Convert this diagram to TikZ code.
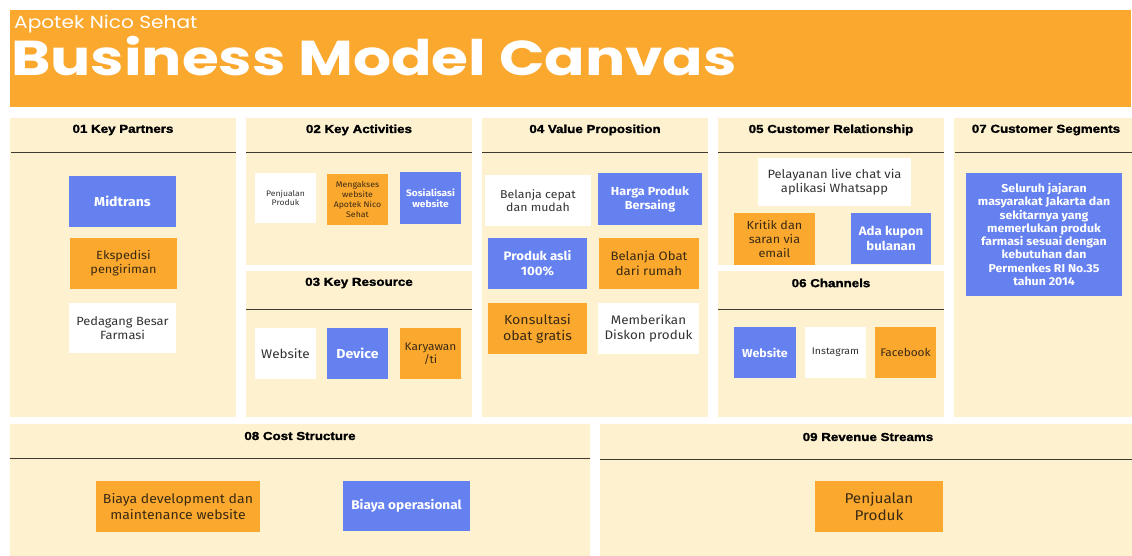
\documentclass[tikz,border=0pt]{standalone}
\usepackage{fontspec}
\setmainfont{Fira Sans}[FakeStretch=1.08]
\newfontfamily\hdfont{Poppins}[FakeStretch=1.15]
\newfontfamily\hdbig{Poppins}[FakeStretch=1.22]
\newfontfamily\ttlfont{Liberation Sans}[FakeStretch=1.15, BoldFeatures={FakeBold=1.6}]
\definecolor{org}{HTML}{FBA82F}
\definecolor{blu}{HTML}{6581F0}
\definecolor{crm}{HTML}{FDF1D0}
\definecolor{wtxt}{HTML}{333333}
\definecolor{otxt}{HTML}{3A2A12}
\definecolor{lin}{HTML}{3F3A30}
\tikzset{
  panel/.style={fill=crm, draw=none, anchor=north west, inner sep=0pt},
  ttl/.style={font=\ttlfont\bfseries\fontsize{11.6}{13}\selectfont, text=black, inner sep=0pt},
  divider/.style={draw=lin, line width=1pt},
  bx/.style={inner sep=1pt, align=center, draw=none, font=\linespread{1.2}\fontsize{#1}{#1}\selectfont},
  wbox/.style={bx=#1, fill=white, text=wtxt},
  obox/.style={bx=#1, fill=org, text=otxt},
  bbox/.style={bx=#1, fill=blu, text=white, font=\linespread{1.2}\bfseries\fontsize{#1}{#1}\selectfont},
}
\begin{document}
\begin{tikzpicture}[x=1pt,y=-1pt]
\useasboundingbox (0,0) rectangle (1132,556);
\fill[white] (0,0) rectangle (1132,556);
% header
\node[fill=org, anchor=north west, minimum width=1121pt, minimum height=97pt, inner sep=0pt] (hdr) at (10,10) {};
\node[anchor=base west, inner sep=0pt, text=white, font=\hdfont\fontsize{17.5}{21}\selectfont] (sub) at (14,29) {Apotek Nico Sehat};
\node[anchor=base west, inner sep=0pt, text=white, font=\hdbig\bfseries\fontsize{49}{58}\selectfont] (main) at (11,76) {Business Model Canvas};
% panels
\node[panel, minimum width=226pt, minimum height=299pt] (pKP) at (10,118) {};
\node[panel, minimum width=226pt, minimum height=147pt] (pKA) at (246,118) {};
\node[panel, minimum width=226pt, minimum height=146pt] (pKR) at (246,271) {};
\node[panel, minimum width=226pt, minimum height=299pt] (pVP) at (482,118) {};
\node[panel, minimum width=226pt, minimum height=147pt] (pCR) at (718,118) {};
\node[panel, minimum width=226pt, minimum height=146pt] (pCH) at (718,271) {};
\node[panel, minimum width=178pt, minimum height=299pt] (pCS) at (954,118) {};
\node[panel, minimum width=580pt, minimum height=132pt] (pCO) at (10,424) {};
\node[panel, minimum width=532pt, minimum height=132pt] (pRS) at (600,424) {};
% titles
\node[ttl] (tKP) at (123,130) {01 Key Partners};
\node[ttl] (tKA) at (359,130) {02 Key Activities};
\node[ttl] (tKR) at (359,283) {03 Key Resource};
\node[ttl] (tVP) at (595,130) {04 Value Proposition};
\node[ttl] (tCR) at (831,130) {05 Customer Relationship};
\node[ttl] (tCH) at (831,283) {06 Channels};
\node[ttl] (tCS) at (1046,130) {07 Customer Segments};
\node[ttl] (tCO) at (300,436) {08 Cost Structure};
\node[ttl] (tRS) at (868,437) {09 Revenue Streams};
% dividers
\draw[divider] (11,153) -- (236,153);
\draw[divider] (246,153) -- (472,153);
\draw[divider] (246,309) -- (472,309);
\draw[divider] (482,153) -- (708,153);
\draw[divider] (718,153) -- (944,153);
\draw[divider] (718,309) -- (944,309);
\draw[divider] (955,153) -- (1132,153);
\draw[divider] (10,458) -- (590,458);
\draw[divider] (600,459) -- (1132,459);
% key partners
\node[bbox=13, minimum width=107pt, minimum height=51pt] (mid) at (122.5,201.5) {Midtrans};
\node[obox=11.8, minimum width=107pt, minimum height=51pt] (eks) at (123.5,263.5) {Ekspedisi\\pengiriman};
\node[wbox=11.9, minimum width=107pt, minimum height=50pt] (ped) at (122.5,328) {Pedagang Besar\\Farmasi};
% key activities
\node[wbox=8, minimum width=61pt, minimum height=50pt] (pjl) at (285.5,198) {Penjualan\\Produk};
\node[obox=8.1, minimum width=61pt, minimum height=51pt] (mgk) at (357.5,199.5) {Mengakses\\website\\Apotek Nico\\Sehat};
\node[bbox=9.4, minimum width=61pt, minimum height=52pt] (sos) at (430.5,198) {Sosialisasi\\website};
% key resource
\node[wbox=12.5, minimum width=61pt, minimum height=51pt] (web1) at (285.5,353.5) {Website};
\node[bbox=13, minimum width=61pt, minimum height=51pt] (dev) at (357.5,353.5) {Device};
\node[obox=11, minimum width=61pt, minimum height=51pt] (kar) at (430.5,353.5) {Karyawan\\/ti};
% value proposition
\node[wbox=11.4, minimum width=106pt, minimum height=51pt] (bcp) at (538,200.5) {Belanja cepat\\dan mudah};
\node[bbox=11.7, minimum width=104pt, minimum height=52pt] (hrg) at (650,199) {Harga Produk\\Bersaing};
\node[bbox=12.3, minimum width=99pt, minimum height=51pt] (pas) at (537.5,263.5) {Produk asli\\100\%};
\node[obox=12.2, minimum width=100pt, minimum height=51pt] (bob) at (649,263.5) {Belanja Obat\\dari rumah};
\node[obox=13.1, minimum width=99pt, minimum height=51pt] (kon) at (537.5,328.5) {Konsultasi\\obat gratis};
\node[wbox=12.4, minimum width=101pt, minimum height=51pt] (mbd) at (648.5,328.5) {Memberikan\\Diskon produk};
% customer relationship
\node[wbox=12, minimum width=153pt, minimum height=48pt] (pel) at (834.5,182) {Pelayanan live chat via\\aplikasi Whatsapp};
\node[obox=11.7, minimum width=81pt, minimum height=52pt] (krt) at (774.5,239) {Kritik dan\\saran via\\email};
\node[bbox=12.3, minimum width=80pt, minimum height=51pt] (kup) at (891,238.5) {Ada kupon\\bulanan};
% channels
\node[bbox=11.5, minimum width=62pt, minimum height=51pt] (web2) at (765,352.5) {Website};
\node[wbox=9.7, minimum width=61pt, minimum height=51pt] (ins) at (835.5,352.5) {Instagram};
\node[obox=11, minimum width=61pt, minimum height=51pt] (fb) at (905.5,352.5) {Facebook};
% customer segments
\node[bbox=11.4, minimum width=156pt, minimum height=123pt, font=\bfseries\fontsize{11.4}{13.3}\selectfont] (seg) at (1044,234.5) {Seluruh jajaran\\masyarakat Jakarta dan\\sekitarnya yang\\memerlukan produk\\farmasi sesuai dengan\\kebutuhan dan\\Permenkes RI No.35\\tahun 2014};
% cost structure
\node[obox=13, minimum width=164pt, minimum height=51pt] (dev2) at (178,506.5) {Biaya development dan\\maintenance website};
\node[bbox=12.6, minimum width=127pt, minimum height=50pt] (ops) at (406.5,506) {Biaya operasional};
% revenue
\node[obox=14.2, minimum width=128pt, minimum height=51pt] (pjl2) at (879,506.5) {Penjualan\\Produk};
\end{tikzpicture}
\end{document}
